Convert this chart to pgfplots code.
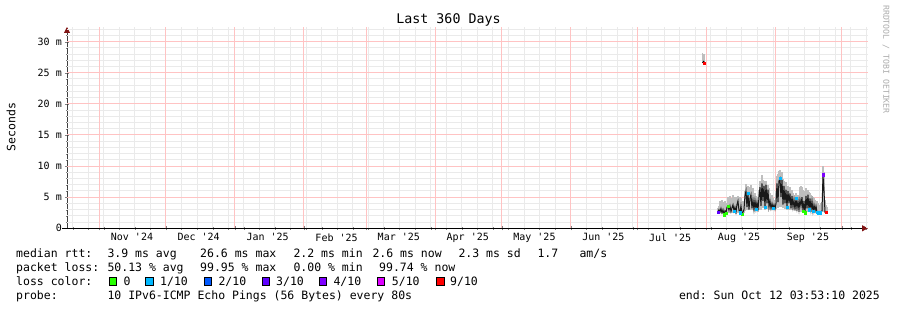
\documentclass[border=0pt]{standalone}
\usepackage{pgfplots}
\pgfplotsset{compat=1.18}
\usepackage{pgfplotstable}
\usepackage{fontspec}
\setmonofont{DejaVu Sans Mono}
\renewcommand{\familydefault}{\ttdefault}
\usetikzlibrary{arrows.meta}
\definecolor{arrowred}{RGB}{128,20,20}
\definecolor{mgridc}{RGB}{255,195,195}
\definecolor{mingridc}{RGB}{234,234,234}
\definecolor{smoke}{RGB}{190,190,190}
\definecolor{loss0}{HTML}{26FF00}
\definecolor{loss1}{HTML}{00B8FF}
\definecolor{loss2}{HTML}{0059FF}
\definecolor{loss3}{HTML}{5E00FF}
\definecolor{loss4}{HTML}{7E00FF}
\definecolor{loss5}{HTML}{DD00FF}
\definecolor{loss9}{HTML}{FF0000}

% x = days since 1 Nov 2024, y = milliseconds
\pgfplotstableread{
d lo med hi
271.30 26.5 26.6 28.2
272.00 26.6 26.9 28.0
}\lonedata

\pgfplotstableread{
d lo med hi
278.23 2.5 2.6 3.2
278.68 2.4 3.0 3.6
279.13 2.4 2.6 4.4
279.58 2.5 3.2 4.0
280.03 2.3 2.5 4.5
280.48 2.3 3.0 3.8
280.93 2.1 2.2 4.2
281.38 2.2 2.8 4.4
281.83 2.2 2.4 3.8
282.28 2.3 3.4 4.0
282.73 2.4 3.5 5.0
283.18 2.5 2.9 4.6
283.63 2.6 3.6 5.2
284.08 2.5 2.7 4.2
284.53 2.4 3.3 4.8
284.98 2.6 3.8 5.3
285.43 2.4 2.8 4.4
285.87 2.5 3.4 5.0
286.32 2.3 2.6 4.6
286.77 2.5 3.8 5.0
287.22 2.6 4.4 5.2
287.67 2.5 2.9 4.8
288.12 2.3 2.5 5.0
288.57 2.4 3.6 4.8
289.02 2.2 2.3 4.4
289.47 2.3 2.6 4.0
289.92 2.5 3.0 4.4
290.37 2.8 5.2 6.0
290.82 3.0 6.0 7.2
291.27 2.9 3.4 6.0
291.72 3.2 5.6 6.8
292.17 2.9 3.0 5.4
292.62 3.0 4.8 6.6
293.07 3.1 5.4 7.0
293.52 2.9 3.2 6.2
293.97 3.0 4.6 6.4
294.42 2.8 3.0 5.0
294.87 3.0 4.5 5.6
295.32 2.8 3.1 5.2
295.77 2.9 4.2 5.0
296.22 2.7 2.9 4.6
296.67 3.0 5.0 6.2
297.12 3.1 6.6 7.6
297.57 3.0 3.6 7.2
298.02 3.4 7.2 8.6
298.47 3.2 4.4 7.8
298.92 3.3 6.8 7.6
299.37 3.0 3.4 6.8
299.82 3.2 7.0 7.6
300.27 3.1 4.0 6.6
300.72 3.2 6.2 7.0
301.17 3.0 3.4 6.4
301.62 3.1 4.4 5.6
302.07 2.9 3.2 5.0
302.52 3.1 4.0 5.4
302.97 3.0 3.2 4.8
303.42 3.0 3.8 4.6
303.87 2.9 3.1 4.4
304.32 3.1 4.0 6.0
304.77 3.4 7.2 8.4
305.22 3.3 4.2 8.8
305.67 3.5 7.6 9.2
306.12 3.6 8.0 9.4
306.57 3.4 5.0 8.6
307.02 3.5 7.8 9.0
307.46 3.2 3.8 8.0
307.91 3.4 6.8 7.6
308.36 3.1 4.0 7.2
308.81 3.3 6.2 7.4
309.26 3.0 3.4 6.6
309.71 3.2 6.0 6.8
310.16 3.0 4.0 6.4
310.61 3.1 5.6 6.6
311.06 2.9 3.2 6.0
311.51 3.0 5.2 6.2
311.96 2.9 3.4 5.6
312.41 3.0 4.6 5.4
312.86 2.8 3.0 5.0
313.31 3.0 4.8 5.6
313.76 2.8 3.2 5.2
314.21 2.9 4.4 5.4
314.66 2.7 3.0 5.0
315.11 2.8 4.6 6.6
315.56 2.6 3.6 6.8
316.01 2.7 5.0 6.6
316.46 2.5 2.8 6.2
316.91 2.6 4.4 6.0
317.36 2.4 2.5 5.6
317.81 2.8 5.2 6.4
318.26 2.7 3.2 6.0
318.71 2.9 5.4 6.2
319.16 2.7 3.0 5.8
319.61 2.8 4.8 5.6
320.06 2.6 3.0 5.4
320.51 2.8 4.4 5.2
320.96 2.5 2.7 5.0
321.41 2.7 3.8 4.8
321.86 2.5 2.8 4.6
322.31 2.6 3.6 4.4
322.76 2.4 2.6 4.4
323.21 2.4 2.5 4.0
323.66 2.4 2.7 3.8
324.11 2.4 2.5 3.6
324.56 2.5 2.7 4.0
325.01 2.6 2.8 4.2
325.46 2.8 8.6 10.0
325.91 2.7 6.0 9.0
326.36 2.5 2.6 4.6
326.81 2.5 2.6 3.8
327.26 2.5 2.7 3.4
}\smokedata

\newcommand{\legfont}{\fontsize{11.5}{13}\selectfont}

\begin{document}
\begin{tikzpicture}[font=\legfont]
\path[use as bounding box] (0,0) rectangle (897pt,310pt);
\begin{axis}[
  at={(67pt,81.7pt)}, anchor=south west,
  scale only axis, width=801pt, height=201.3pt,
  xmin=-14.52, xmax=345.7, ymin=0, ymax=32.36,
  axis lines*=left,
  axis line style={black, line width=0.8pt},
  x axis line style={shorten <=-5pt, -{Triangle[length=6pt,width=6pt,color=arrowred]}},
  y axis line style={draw=black!75, -{Triangle[length=6pt,width=6pt,color=arrowred]}},
  tick align=center,
  major tick length=4pt, minor tick length=2.5pt,
  xtick={0,30,61,92,120,151,181,212,242,273,304,334},
  xticklabels={},
  extra x ticks={14.7,44.7,75.7,106.7,134.7,165.7,195.7,226.7,256.7,287.7,318.7},
  extra x tick labels={Nov '24,Dec '24,Jan '25,Feb '25,Mar '25,Apr '25,May '25,Jun '25,Jul '25,Aug '25,Sep '25},
  extra x tick style={major tick length=0pt},
  minor xtick={-12,-5,...,345},
  ytick={0,5,...,30},
  yticklabels={0,5 m,10 m,15 m,20 m,25 m,30 m},
  minor ytick={1,2,3,4,6,7,8,9,11,12,13,14,16,17,18,19,21,22,23,24,26,27,28,29,31,32},
  tick label style={font=\fontsize{10}{12}\selectfont},
  xticklabel style={anchor=north, inner sep=0pt, yshift=-5pt},
  yticklabel style={anchor=east, inner sep=0pt, xshift=-3pt},
]
% grid: weekly / 1 ms (grey), monthly / 5 ms (red)
\pgfplotsinvokeforeach{-12,-5,...,345}{
  \draw[mingridc, line width=1pt] (axis cs:#1,0) -- (axis cs:#1,32.36);}
\pgfplotsinvokeforeach{1,2,3,4,6,7,8,9,11,12,13,14,16,17,18,19,21,22,23,24,26,27,28,29,31,32}{
  \draw[mingridc, line width=1pt] (axis cs:-14.52,#1) -- (axis cs:345.7,#1);}
\pgfplotsinvokeforeach{0,30,61,92,120,151,181,212,242,273,304,334}{
  \draw[mgridc, line width=1pt] (axis cs:#1,0) -- (axis cs:#1,32.36);}
\pgfplotsinvokeforeach{5,10,15,20,25,30}{
  \draw[mgridc, line width=1pt] (axis cs:-14.52,#1) -- (axis cs:345.7,#1);}
% smoke (min..max per step)
\addplot[draw=none, mark=none, forget plot,
  error bars/.cd, y dir=plus, y explicit, error mark=none,
  error bar style={draw=smoke, line width=1.1pt, solid}]
  table[x=d, y=lo, y error expr=\thisrow{hi}-\thisrow{lo}] {\smokedata};
\addplot[draw=none, mark=none, forget plot,
  error bars/.cd, y dir=plus, y explicit, error mark=none,
  error bar style={draw=smoke, line width=1.6pt, solid}]
  table[x=d, y=lo, y error expr=\thisrow{hi}-\thisrow{lo}] {\lonedata};
% median
\addplot[black!90, line width=1pt, mark=none] table[x=d, y=med] {\smokedata};
\addplot[black, line width=1pt, mark=none] table[x=d, y=med] {\lonedata};
% loss colours
\addplot[only marks, mark=square*, mark size=1.1pt, color=loss0]
  coordinates {(280.93,2.2) (281.83,2.4) (282.73,3.5) (289.02,2.3) (316.46,2.8) (317.36,2.5)};
\addplot[only marks, mark=square*, mark size=1.1pt, color=loss1]
  coordinates {(285.43,2.8) (288.12,2.5) (291.72,5.6) (295.32,3.1) (299.37,3.4) (302.97,3.2) (306.12,8.0) (309.26,3.4) (313.31,4.8) (319.16,3.0) (320.96,2.7) (322.76,2.6) (323.21,2.5) (324.11,2.5)};
\addplot[only marks, mark=square*, mark size=1.1pt, color=loss3]
  coordinates {(278.23,2.6)};
\addplot[only marks, mark=square*, mark size=1.1pt, color=loss4]
  coordinates {(325.46,8.6)};
\addplot[only marks, mark=square*, mark size=1.1pt, color=loss9]
  coordinates {(326.81,2.6) (272.00,26.6)};
\end{axis}

% title and side texts
\node[anchor=base, inner sep=0pt, font=\fontsize{13.3}{15}\selectfont] at (448.5pt,286pt) {Last 360 Days};
\node[rotate=90, inner sep=0pt] at (11pt,183pt) {Seconds};
\node[rotate=-90, inner sep=0pt, text=black!33, font=\fontsize{8.2}{10}\selectfont] at (886pt,250.5pt) {RRDTOOL / TOBI OETIKER};

% legend lines
\begin{scope}[every node/.style={anchor=base west, inner sep=0pt}]
\node at (16pt,52.3pt) {median rtt:};
\node at (107.3pt,52.3pt) {3.9 ms avg};
\node at (200pt,52.3pt) {26.6 ms max};
\node at (293.3pt,52.3pt) {2.2 ms min};
\node at (372.3pt,52.3pt) {2.6 ms now};
\node at (458.3pt,52.3pt) {2.3 ms sd};
\node at (537.3pt,52.3pt) {1.7};
\node at (579.3pt,52.3pt) {am/s};

\node at (16pt,38.3pt) {packet loss:};
\node at (107.3pt,38.3pt) {50.13 \% avg};
\node at (200pt,38.3pt) {99.95 \% max};
\node at (293.3pt,38.3pt) {0.00 \% min};
\node at (379pt,38.3pt) {99.74 \% now};

\node at (16pt,24.3pt) {loss color:};
\node at (123.3pt,24.3pt) {0};
\node at (160pt,24.3pt) {1/10};
\node at (218.3pt,24.3pt) {2/10};
\node at (276pt,24.3pt) {3/10};
\node at (333.3pt,24.3pt) {4/10};
\node at (391.7pt,24.3pt) {5/10};
\node at (450pt,24.3pt) {9/10};

\node at (16pt,10.3pt) {probe:};
\node at (107.3pt,10.3pt) {10 IPv6-ICMP Echo Pings (56 Bytes) every 80s};
\end{scope}
\node[anchor=base east, inner sep=0pt] at (880pt,10.3pt) {end: Sun Oct 12 03:53:10 2025};

\foreach \bx/\bc in {109/loss0,145.7/loss1,204/loss2,262/loss3,319/loss4,377/loss5,436.7/loss9}{
  \filldraw[fill=\bc, draw=black, line width=0.5pt] (\bx pt,24.5pt) rectangle ++(7.5pt,8pt);
}
\end{tikzpicture}
\end{document}
